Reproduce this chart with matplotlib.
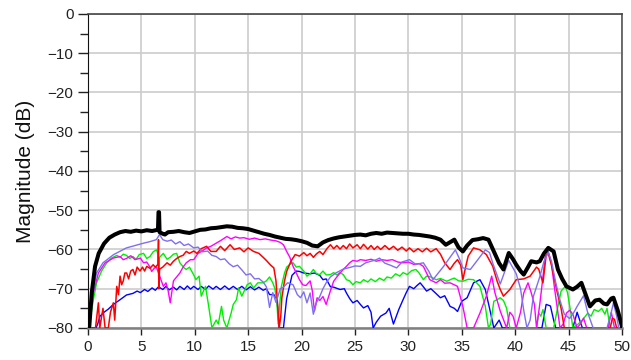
import numpy as np
import matplotlib.pyplot as plt

plt.rcParams['font.family'] = ['Liberation Sans', 'DejaVu Sans']

# frequency / magnitude (dB) pairs for each trace
black_f = [0.0, 0.12, 0.35, 0.66, 1.0, 1.5, 2.0, 2.5, 3.0, 3.5, 4.0, 4.5, 5.0, 5.5, 6.0, 6.5,
           6.55, 6.6, 6.65, 6.7, 7.0, 7.2, 7.5, 8.0, 8.5, 9.0, 9.5, 10.0, 10.5, 11.0, 11.5, 12.0,
           12.5, 13.0, 13.5, 14.0, 14.5, 15.0, 15.5, 16.0, 16.5, 17.0, 17.5, 18.0, 18.5, 19.0,
           19.5, 20.0, 20.5, 21.0, 21.5, 22.0, 22.5, 23.0, 23.5, 24.0, 24.5, 25.0, 25.5, 26.0,
           26.5, 27.0, 27.5, 28.0, 28.5, 29.0, 29.5, 30.0, 30.5, 31.0, 31.5, 32.0, 32.5, 33.0,
           33.5, 34.0, 34.3, 34.7, 35.1, 35.5, 36.0, 36.5, 37.0, 37.5, 38.0, 38.5, 38.9, 39.4,
           39.8, 40.1, 40.5, 40.8, 41.2, 41.5, 42.0, 42.3, 42.7, 43.1, 43.6, 44.0, 44.4, 44.8,
           45.4, 45.8, 46.2, 46.6, 47.0, 47.5, 47.9, 48.3, 48.6, 49.0, 49.2, 49.6, 50.0]
black_db = [-80, -79.6, -71, -64.3, -61, -58.5, -57, -56.2, -55.6, -55.3, -55.5, -55.2, -55.4,
            -55.1, -55.3, -55.0, -55.0, -50.5, -50.5, -55.6, -56.0, -56.2, -55.6, -55.5, -55.3,
            -55.6, -55.8, -55.4, -55.0, -54.9, -54.6, -54.5, -54.3, -54.1, -54.2, -54.5, -54.6,
            -54.8, -55.2, -55.6, -56.0, -56.3, -56.7, -57.0, -57.3, -57.4, -57.6, -57.9, -58.3,
            -59.0, -59.2, -58.2, -57.6, -57.2, -56.9, -56.7, -56.5, -56.3, -56.2, -56.4, -56.0,
            -55.8, -56.0, -55.7, -55.8, -55.9, -56.0, -56.0, -56.2, -56.3, -56.5, -56.7, -57.0,
            -57.5, -58.8, -58.0, -57.5, -59.5, -60.5, -59.0, -57.6, -57.4, -57.1, -57.5, -60.5,
            -63.5, -65.1, -60.9, -62.5, -63.9, -65.5, -66.4, -64.5, -63.0, -63.3, -63.0, -61.0,
            -59.6, -60.5, -65.1, -67.5, -69.4, -70.2, -69.5, -68.5, -71.5, -74.5, -73.0, -72.8,
            -73.8, -74.0, -72.5, -72.3, -75.5, -79.6]

purple_f = [0.0, 0.15, 0.35, 0.8, 1.4, 2.4, 3.6, 4.4, 5.2, 5.8, 6.4, 6.7, 7.0, 7.4, 7.8, 8.2,
            8.6, 9.0, 9.4, 9.9, 10.3, 10.7, 11.2, 11.6, 12.0, 12.4, 12.8, 13.2, 13.6, 14.0, 14.4,
            14.8, 15.2, 15.6, 16.0, 16.4, 16.7, 17.0, 17.3, 17.6, 18.0, 18.3, 18.7, 19.2, 19.6,
            19.9, 20.2, 20.5, 20.8, 21.1, 21.4, 21.7, 22.0, 22.3, 22.7, 23.2, 23.9, 24.5, 25.0,
            25.5, 26.0, 26.5, 27.0, 27.3, 27.8, 28.3, 28.9, 29.4, 30.1, 30.7, 31.4, 31.9, 32.3,
            32.8, 33.3, 33.9, 34.4, 34.8, 35.1, 35.8, 36.5, 37.2, 37.6, 37.9, 38.6, 39.4, 40.1,
            40.5, 40.8, 41.1, 41.4, 41.7, 42.3, 42.7, 43.1, 43.4, 43.8, 44.2, 44.6, 45.1, 45.5,
            45.8, 46.4, 46.8, 47.3, 48.6, 49.0, 49.2, 49.5, 49.7, 50.0]
purple_db = [-80, -78, -72.8, -66, -63.4, -61.3, -59.6, -59.0, -58.4, -58.0, -57.5, -56.2, -57.5,
             -57.9, -57.6, -58.6, -58.0, -59.0, -58.6, -59.6, -59.4, -60.6, -60.4, -61.5, -61.8,
             -62.6, -62.4, -63.6, -64.4, -64.0, -65.2, -66.5, -66.2, -67.5, -67.4, -68.3, -69.5,
             -74.8, -71.0, -73.5, -70.0, -69.6, -68.5, -69.0, -71.5, -72.3, -70.8, -73.6, -71.1,
             -76.5, -73.5, -72.0, -70.0, -68.5, -67.0, -66.0, -65.0, -64.6, -64.2, -64.3, -63.4,
             -63.0, -62.6, -62.2, -63.5, -64.0, -64.7, -63.2, -62.6, -63.8, -63.4, -65.5, -67.7,
             -66.0, -64.3, -62.0, -60.1, -62.5, -64.7, -65.1, -62.6, -60.1, -60.8, -63.5, -68.8,
             -62.8, -66.2, -70.0, -75.5, -80, -78, -72, -67, -63, -60.8, -63, -68.5, -73, -76.5,
             -77.6, -76, -74.5, -71.8, -76.2, -80, -80, -76, -73.6, -77, -80, -80]

red_f = [0.0, 0.7, 0.97, 1.1, 1.4, 1.6, 1.9, 2.1, 2.37, 2.5, 2.69, 2.85, 3.0, 3.15, 3.3, 3.45,
         3.62, 3.8, 4.0, 4.2, 4.4, 4.6, 4.87, 5.1, 5.3, 5.5, 5.8, 6.1, 6.3, 6.55, 6.6, 6.63, 6.7,
         7.0, 7.4, 7.7, 8.0, 8.3, 8.6, 8.9, 9.2, 9.5, 9.9, 10.2, 10.6, 11.1, 11.5, 12.0, 12.4,
         12.8, 13.3, 13.7, 14.2, 14.6, 15.0, 15.5, 16.0, 16.4, 16.7, 17.1, 17.4, 17.6, 17.75,
         17.9, 18.05, 18.15, 18.4, 18.6, 19.0, 19.4, 19.8, 20.2, 20.5, 20.8, 21.1, 21.4, 21.7,
         22.0, 22.4, 22.7, 23.0, 23.3, 23.6, 23.9, 24.2, 24.5, 24.8, 25.2, 25.5, 25.8, 26.2,
         26.5, 26.8, 27.1, 27.4, 27.8, 28.2, 28.6, 29.0, 29.4, 29.8, 30.1, 30.5, 30.9, 31.3,
         31.7, 32.1, 32.6, 33.0, 33.4, 33.9, 34.3, 34.6, 34.9, 35.1, 35.4, 35.6, 36.1, 36.7,
         37.3, 37.9, 38.3, 38.6, 38.9, 39.5, 40.1, 40.8, 41.4, 42.0, 42.2, 42.6, 42.9, 43.1,
         43.4, 43.9, 44.3, 44.6, 48.9, 49.1, 49.3, 49.5, 50.0]
red_db = [-80, -80, -73.6, -80, -75, -80, -80, -76, -73.6, -78, -69.4, -71.5, -66.8, -69, -68,
          -66, -66, -67.5, -65.5, -65.1, -66.5, -64.5, -65.5, -64.5, -65.5, -64.3, -64.8, -63.9,
          -64.5, -63.8, -57.5, -70, -65, -64.5, -63.4, -64, -63, -62.3, -61.8, -61.5, -60.5, -61,
          -60.4, -61, -59.8, -59.2, -60.5, -60.5, -59.2, -60.3, -58.8, -60.0, -59.6, -60.6, -59.6,
          -60.5, -61, -62, -62.8, -64.0, -64.7, -68, -74, -80, -77, -72.3, -68, -65.6, -63, -61.3,
          -61.7, -60.8, -61.6, -61.0, -62, -61.1, -60.5, -61.3, -59.7, -58.8, -59.8, -59.0, -59.9,
          -59.0, -59.8, -58.6, -59.6, -58.8, -59.8, -58.7, -59.9, -59.0, -60.0, -59.2, -60.0,
          -59.0, -60.0, -59.2, -60.2, -59.4, -60.4, -59.6, -60.6, -59.8, -60.6, -59.7, -60.6,
          -59.8, -61.2, -63.4, -65.1, -63.5, -62.6, -64, -67.7, -64, -61.7, -59.6, -60.1, -61.3,
          -64.3, -68, -70.2, -71.9, -70.2, -67.7, -67.5, -66.8, -64.5, -65, -68.5, -61.5, -61,
          -64, -70.5, -75, -80, -80, -77.5, -77.8, -80, -80]

magenta_f = [0.0, 0.2, 0.5, 0.97, 1.6, 2.37, 3.0, 3.3, 3.6, 4.0, 4.4, 4.9, 5.2, 5.5, 5.8, 5.96,
             6.2, 6.4, 6.74, 7.05, 7.3, 7.5, 7.7, 8.0, 8.3, 8.6, 8.9, 9.2, 9.6, 9.9, 10.3, 10.7,
             11.1, 11.5, 12.0, 12.5, 13.0, 13.4, 13.8, 14.2, 14.6, 15.1, 15.6, 16.1, 16.6, 17.1,
             17.6, 18.0, 18.3, 18.6, 18.9, 19.2, 19.5, 19.8, 20.1, 20.4, 20.8, 21.0, 21.2, 21.45,
             21.7, 22.0, 22.3, 22.7, 23.0, 23.3, 23.6, 23.9, 24.2, 24.5, 24.8, 25.2, 25.5, 26.0,
             26.5, 27.0, 27.5, 28.0, 28.5, 29.0, 29.5, 30.0, 30.5, 31.0, 31.4, 31.7, 32.0, 32.6,
             33.0, 33.4, 33.9, 34.3, 34.6, 35.1, 35.5, 36.1, 36.7, 37.3, 37.8, 38.1, 38.6, 39.2,
             39.5, 39.8, 40.1, 40.5, 40.8, 41.2, 41.5, 41.8, 42.0, 42.3, 42.5, 42.8, 43.1, 43.4,
             43.7, 44.0, 44.2, 44.5, 44.8, 45.1, 45.4, 45.8, 46.1, 46.4, 46.7, 48.7, 49.0, 49.3,
             50.0]
magenta_db = [-80, -77, -71, -66, -63.4, -62.2, -61.8, -62.6, -62.3, -61.6, -62.6, -62.2, -63.4,
              -63.2, -64.5, -65.6, -64.8, -64.5, -67, -69.4, -68.5, -70.5, -73.6, -68, -67, -66,
              -64.5, -63.4, -62.6, -62.6, -61, -60.4, -59.6, -59.2, -58.4, -57.6, -56.7, -57.3,
              -56.8, -57.1, -57.0, -57.4, -57.1, -57.5, -57.3, -57.6, -57.8, -58.2, -58.8, -60.5,
              -62, -64.3, -66, -67.7, -69, -69.2, -68, -70.5, -75.7, -72.3, -73, -72, -74, -70.5,
              -68.1, -67, -66, -65.1, -64.3, -63.4, -62.8, -63.0, -62.6, -62.8, -62.5, -63.0,
              -62.6, -62.8, -62.6, -63.2, -63.4, -63.2, -63.8, -63.6, -64.3, -66, -67.7, -68.5,
              -67.7, -68.6, -68.5, -69.0, -69.4, -74.5, -80, -80, -76.2, -71.9, -66.8, -71, -75.7,
              -80, -76, -77, -80, -76, -71.1, -68.5, -71, -74, -80, -74, -69.4, -62, -60.5, -63.8,
              -70.2, -76, -80, -79, -76.2, -75.5, -76.5, -80, -79, -77.5, -80, -80, -76, -80, -80]

green_f = [0.0, 0.25, 0.5, 0.8, 1.27, 1.75, 2.2, 2.7, 3.0, 3.3, 3.6, 3.9, 4.2, 4.5, 4.8, 5.2,
           5.5, 5.8, 6.1, 6.4, 6.55, 6.62, 6.7, 7.05, 7.4, 7.7, 8.0, 8.3, 8.6, 9.0, 9.2, 9.5, 9.9,
           10.1, 10.4, 10.6, 11.0, 11.3, 11.6, 12.0, 12.2, 12.5, 12.7, 13.0, 13.4, 13.6, 13.9,
           14.1, 14.4, 14.9, 15.2, 15.5, 15.9, 16.4, 16.7, 17.0, 17.3, 17.5, 17.7, 17.8, 17.95,
           18.1, 18.4, 18.6, 19.0, 19.2, 19.5, 19.8, 20.2, 20.5, 20.8, 21.1, 21.4, 21.7, 22.0,
           22.3, 22.7, 23.0, 23.3, 23.6, 23.9, 24.2, 24.5, 24.8, 25.1, 25.5, 25.8, 26.2, 26.5,
           26.9, 27.3, 27.7, 28.0, 28.4, 28.8, 29.2, 29.5, 29.9, 30.3, 30.7, 31.0, 31.4, 31.7,
           32.1, 32.6, 33.0, 33.6, 34.0, 34.3, 34.7, 35.1, 35.6, 36.1, 36.7, 37.2, 37.5, 37.7,
           38.0, 38.3, 38.6, 38.9, 39.2, 39.5, 42.0, 42.2, 42.4, 42.6, 42.9, 43.6, 44.0, 44.3,
           44.7, 44.9, 45.2, 45.4, 45.9, 46.3, 46.8, 47.1, 47.4, 47.8, 48.1, 48.4, 48.6, 48.9,
           50.0]
green_db = [-80, -77, -72.8, -68.5, -65.5, -63.4, -62.2, -61.5, -62, -61.2, -61.5, -62.3, -61.8,
            -62.5, -61.3, -61, -62.3, -61.8, -60.6, -60.1, -61, -68, -62, -61, -62.5, -62, -61.2,
            -61, -63.4, -64.7, -65.1, -64.5, -66.5, -67.7, -66.8, -71.9, -69.4, -74.5, -80, -78,
            -79, -74.5, -78, -80, -76.2, -74, -72.8, -69.8, -71.9, -69, -68.5, -69.8, -68.5, -68.5,
            -68, -67, -68.5, -70, -74, -79, -74, -69.5, -66, -64.5, -63.6, -63.4, -64.5, -64.3,
            -65.5, -66.8, -66.2, -65.1, -66.2, -66.4, -65.5, -66.5, -66.4, -65.9, -66.5, -65.9,
            -66.4, -67.7, -68.0, -69, -68.2, -68.5, -67.7, -68.3, -67.5, -68.2, -67.3, -67.9,
            -67.0, -67.3, -66.2, -66.8, -65.9, -66.4, -65.4, -65.1, -66, -67.7, -66.8, -67.0,
            -67.7, -67.4, -68.1, -67.6, -67.3, -68.0, -68.1, -67.6, -67.7, -69.4, -74.5, -80,
            -79, -73.2, -72.8, -72.3, -73, -75, -80, -80, -76.2, -77, -75.3, -80, -80, -74.5,
            -70.6, -69.4, -71, -76, -80, -79, -78, -76.2, -77, -75.3, -75.8, -75, -76.5, -75,
            -80, -80]

blue_f = [0.0, 0.75, 0.9, 1.12, 1.5, 1.9, 2.37, 3.0, 3.6, 4.2, 4.6, 4.9, 5.3, 5.6, 6.0, 6.3,
          6.6, 7.0, 7.3, 7.6, 8.0, 8.3, 8.6, 9.0, 9.3, 9.6, 9.9, 10.3, 10.6, 11.0, 11.3, 11.7,
          12.0, 12.4, 12.8, 13.2, 13.6, 14.0, 14.4, 14.8, 15.2, 15.6, 16.0, 16.4, 16.7, 17.0,
          17.4, 17.7, 17.9, 18.3, 18.6, 19.1, 19.5, 19.8, 20.2, 20.8, 21.2, 21.7, 22.0, 22.3,
          22.7, 23.0, 23.6, 24.0, 24.2, 24.5, 24.8, 25.2, 25.5, 25.8, 26.2, 26.5, 26.7, 27.0,
          27.4, 27.9, 28.2, 28.6, 29.1, 29.5, 29.8, 30.1, 30.5, 30.8, 31.1, 31.4, 31.7, 32.1,
          32.5, 33.0, 33.4, 33.9, 34.3, 34.6, 35.0, 35.5, 36.1, 36.7, 37.2, 37.6, 38.0, 38.5,
          38.8, 42.5, 42.9, 43.3, 43.6, 43.8, 45.4, 45.8, 46.1, 46.3, 50.0]
blue_db = [-80, -80, -79, -77, -76, -75.2, -74, -72.8, -71.6, -71.2, -70.6, -71.0, -70.2, -70.7,
           -69.8, -70.4, -69.5, -70.2, -69.4, -70.3, -69.6, -70.3, -69.4, -70.2, -69.3, -70.1,
           -69.4, -70.2, -69.4, -70.2, -69.3, -70.1, -69.4, -70.2, -69.3, -70.2, -69.4, -70.2,
           -69.4, -70.3, -69.5, -70.3, -69.6, -70.4, -70.0, -71.5, -71.5, -72.8, -80, -80, -72.5,
           -66.6, -65.5, -65.6, -66.0, -66.2, -66.0, -66.6, -67.7, -67.5, -69.5, -69.6, -70.2,
           -70.0, -71.1, -72.5, -73.6, -73.0, -74, -74.9, -74.3, -76, -80, -78.5, -77, -76.2, -75,
           -79, -75.3, -72.8, -71, -69.4, -70, -69.2, -68.5, -69.5, -70.6, -70.0, -71, -72.3,
           -71.8, -74.5, -75, -75.8, -73.2, -72.3, -68.5, -67.7, -70.2, -75, -80, -78, -80, -80,
           -74, -74.4, -78, -80, -80, -76, -78.5, -80, -80]

xticks = np.arange(0, 51, 5)
yticks = np.arange(-80, 1, 10)

fig = plt.figure(figsize=(6.31, 3.6), dpi=100)
ax = fig.add_axes([0.1395, 0.089, 0.8462, 0.8722])

ax.plot(blue_f, blue_db, color='#0000ff', lw=1.0, zorder=3)
ax.plot(green_f, green_db, color='#00ee00', lw=1.0, zorder=3)
ax.plot(magenta_f, magenta_db, color='#ff00ff', lw=1.0, zorder=3)
ax.plot(red_f, red_db, color='#ff0000', lw=1.1, zorder=3)
ax.plot(purple_f, purple_db, color='#7f6ff0', lw=1.0, zorder=3)
ax.plot(black_f, black_db, color='black', lw=2.9, zorder=4)

ax.set_xlim(0, 50)
ax.set_ylim(-80, 0)
ax.set_xticks(xticks)
ax.set_yticks(yticks)
ax.set_yticks(np.arange(-75, 0, 10), minor=True)
ax.grid(True, which='major', color='#cccccc', lw=1.2, zorder=0)
ax.set_axisbelow(True)

ax.tick_params(axis='both', which='major', direction='out', labelsize=11,
               colors='#222222', width=1.0)
ax.tick_params(axis='y', which='major', length=7)
ax.tick_params(axis='y', which='minor', direction='out', length=6, width=1.0,
               color='#222222')
ax.tick_params(axis='x', which='major', length=5, pad=4)

ax.spines['left'].set_color('#111111')
ax.spines['top'].set_color('#444444')
ax.spines['top'].set_linewidth(1.2)
ax.spines['right'].set_color('#555555')
ax.spines['right'].set_linewidth(1.2)
ax.spines['bottom'].set_color('#808080')
ax.spines['bottom'].set_linewidth(1.8)

ax.set_ylabel('Magnitude (dB)', fontsize=15, color='#111111', labelpad=9)

fig.savefig('out.png', dpi=100)
